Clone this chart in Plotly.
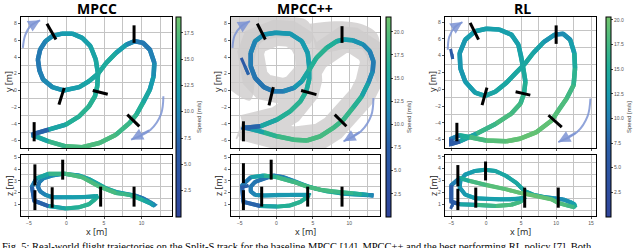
import plotly.graph_objects as go
from plotly.colors import sample_colorscale

W, H = 640, 248

# ---------------- data ----------------
methods = ["MPCC", "MPCC++", "RL"]

mpcc_x = [-4.3, -2.4, -0.1, 1.7, 3.0, 3.8, 4.1, 4.2, 3.9, 3.2, 2.1, 0.8, -0.6, -1.9, -2.8, -3.5, -3.8, -3.6, -3.1, -1.9,
          -0.4, 1.7, 3.0, 4.2, 5.3, 6.6, 8.0, 9.1, 10.2, 11.1, 11.7, 11.6, 11.1, 10.2, 9.3, 8.4, 6.6, 4.4, 2.1, -0.1,
          -2.4, -4.0, -4.6]
mpcc_y = [-5.2, -4.7, -4.1, -3.1, -1.9, -0.7, 0.5, 2.0, 3.7, 5.3, 6.3, 6.8, 6.8, 6.5, 5.9, 4.9, 3.7, 2.4, 1.3, 0.4,
          0.0, 0.4, 1.1, 2.0, 3.3, 4.5, 5.5, 5.9, 5.7, 4.9, 3.3, 1.7, 0.1, -1.5, -2.9, -3.9, -5.3, -6.3, -6.8, -6.7,
          -6.1, -5.5, -5.35]
mpcc_z = [1.3, 0.85, 0.65, 0.75, 1.0, 1.4, 1.65, 1.7, 1.7, 1.65, 1.6, 1.6, 1.6, 1.6, 1.8, 2.1, 2.5, 2.9, 3.2, 3.45,
          3.6, 3.45, 3.15, 2.75, 2.35, 2.05, 1.85, 1.75, 1.5, 1.2, 0.95, 0.9, 1.1, 1.35, 1.6, 1.8, 1.95, 2.5, 3.3, 3.6,
          3.6, 3.2, 2.5]
mpcc_v = [7, 12, 14, 15, 15, 14.5, 14, 13.5, 13, 12.5, 12, 12, 11.5, 11, 10, 9, 8.5, 9, 10, 10.5,
          11.5, 12.5, 13, 13.5, 14, 13, 11, 9, 8.5, 9, 10, 11, 12.5, 14, 15, 15.5, 16.5, 17, 17, 16.5,
          15, 11, 7]

mpp_x = [-4.5, -2.2, 0.1, 1.9, 3.3, 4.1, 4.5, 4.5, 4.3, 3.5, 1.9, -0.1, -1.7, -2.9, -3.5, -3.5, -2.9, -1.7, -0.4, 1.0,
         2.4, 3.5, 4.4, 5.5, 6.9, 8.3, 9.2, 10.5, 11.9, 12.8, 13.3, 13.2, 12.6, 11.7, 10.5, 9.2, 7.8, 6.0, 4.2, 2.4,
         0.1, -1.7, -3.5, -4.7]
mpp_y = [-4.5, -4.3, -3.5, -2.5, -1.3, -0.1, 1.3, 2.9, 4.5, 5.9, 6.8, 6.9, 6.7, 5.9, 4.5, 2.9, 1.5, 0.4, -0.1, -0.1,
         0.3, 1.1, 2.3, 3.9, 5.1, 5.9, 6.1, 6.0, 5.5, 4.7, 3.5, 2.3, 0.9, -0.7, -2.1, -3.5, -4.5, -5.5, -6.0, -5.9,
         -5.5, -5.0, -4.6, -4.4]
mpp_z = [1.2, 0.85, 0.8, 0.9, 1.2, 1.55, 1.75, 1.8, 1.8, 1.8, 1.8, 1.8, 1.75, 1.8, 2.1, 2.5, 2.9, 3.2, 3.45, 3.3,
         3.0, 2.7, 2.5, 2.3, 2.1, 2.0, 1.9, 1.85, 1.8, 1.8, 1.75, 1.75, 1.8, 1.85, 1.95, 2.0, 2.1, 2.25, 2.5, 2.9,
         3.3, 3.45, 3.3, 2.6]
mpp_v = [8, 14, 16, 17, 17, 16, 15, 14, 13.5, 13, 13, 13, 12.5, 11.5, 10.5, 10, 9.5, 9.5, 10, 10.5,
         12, 14, 16, 17, 17, 15.5, 14, 13, 12, 11, 10, 10.5, 13, 16, 17.5, 18, 18.5, 19, 19, 18.5,
         18, 16, 12, 8]

rl_x = [-5.0, -3.8, -1.4, 1.4, 3.6, 4.9, 5.4, 5.6, 5.3, 5.0, 4.6, 3.6, 1.9, 0.0, -1.6, -3.0, -3.8, -3.7, -3.0, -1.6,
        -0.2, 1.3, 2.8, 4.3, 5.5, 6.7, 8.2, 9.8, 11.0, 12.0, 12.6, 12.7, 12.5, 11.5, 10.3, 9.4, 7.2, 4.8, 2.9, 0.0,
        -2.4, -3.8, -5.0]
rl_y = [-6.5, -6.2, -5.3, -4.1, -2.9, -1.7, -0.5, 0.9, 2.5, 3.9, 5.3, 6.5, 7.1, 7.2, 6.9, 5.9, 4.3, 2.5, 0.9, -0.4,
        -0.8, -0.3, 0.7, 2.0, 3.0, 4.3, 5.6, 6.5, 6.6, 5.9, 4.3, 2.5, 0.5, -1.1, -2.5, -3.7, -5.1, -5.9, -6.2, -6.1,
        -5.7, -5.5, -5.9]
rl_z = [1.2, 1.0, 0.95, 0.85, 0.95, 1.2, 1.5, 1.6, 1.55, 1.5, 1.45, 1.4, 1.4, 1.45, 1.5, 1.8, 2.4, 3.0, 3.5, 3.8,
        3.9, 3.8, 3.4, 2.8, 2.1, 1.8, 1.6, 1.5, 1.4, 1.2, 1.0, 0.85, 0.75, 0.9, 1.1, 1.4, 1.7, 1.95, 2.25, 2.6,
        2.95, 3.2, 2.6]
rl_v = [5, 12, 16, 18, 18, 17, 16, 15, 14, 13.5, 13, 13, 13, 13, 13, 12.5, 12, 12, 12.5, 13,
        13.5, 14, 14, 14, 14.5, 14, 12.5, 11, 11, 12, 14, 15.5, 17, 18, 18.5, 19, 19.5, 19.5, 19, 18.5,
        17, 13, 7]

# start strands (take-off)
mpp_start_x = [-4.8, -4.3, -3.8]
mpp_start_y = [3.9, 2.9, 1.9]
mpp_start_z = [2.4, 2.5, 2.6]
mpp_start_v = [5, 7, 9]
rl_start_x = [-5.1, -4.9, -4.8]
rl_start_y = [4.8, 4.2, 3.6]
rl_start_z = [0.6, 0.8, 1.0]
rl_start_v = [5, 6, 8]

# grey corridor blobs of MPCC++ (top view)
blob1_x = [-6.2, -2.5, 1.0, 4.0, 5.0, 4.6, 2.5, 0.0, -2.2, -3.0, -3.0, -3.6, -6.2]
blob1_y = [8.8, 8.8, 8.8, 8.5, 7.2, 5.6, 6.2, 6.3, 5.6, 3.5, 0.5, -1.2, 0.0]
blob2_x = [4.6, 8.0, 11.5, 13.8, 14.2, 13.9, 12.4, 11.6, 10.0, 7.2, 5.4]
blob2_y = [8.0, 8.3, 8.0, 6.8, 4.5, 1.0, 4.0, 5.0, 5.1, 4.6, 4.9]

# gates: top view segments (x0, y0, x1, y1) and side view (x, z0, z1)
mpcc_gates_xy = [(-2.6, 8.0, -1.4, 6.1), (9.0, 7.8, 9.0, 5.7), (3.5, 0.0, 5.5, -0.45),
                 (-0.3, 0.3, -1.0, -1.7), (8.1, -2.9, 9.7, -4.3), (-4.3, -3.8, -4.3, -6.1)]
mpcc_gates_xz = [(-4.2, 2.6, 4.4), (-4.2, 0.5, 2.2), (-0.5, 3.1, 4.8), (-1.9, 0.7, 2.45),
                 (4.55, 0.8, 2.5), (9.0, 0.8, 2.5)]
mpp_gates_xy = [(-2.6, 8.0, -1.5, 6.1), (9.0, 7.7, 9.0, 5.7), (3.4, 0.0, 5.5, -0.5),
                (-0.4, 0.4, -1.0, -1.8), (8.0, -2.9, 9.6, -4.3), (-4.5, -3.7, -4.5, -6.1)]
mpp_gates_xz = [(-4.5, 2.8, 4.5), (-4.5, 0.5, 2.2), (-0.7, 3.1, 4.8), (-2.0, 0.8, 2.5),
                (4.3, 0.8, 2.5), (9.0, 0.8, 2.5)]
rl_gates_xy = [(-2.3, 7.9, -1.1, 5.9), (10.0, 7.6, 10.0, 5.4), (4.2, -0.3, 6.3, -0.7),
               (0.1, 0.2, -0.6, -1.9), (8.9, -3.1, 10.8, -4.5), (-4.2, -4.0, -4.2, -6.2)]
rl_gates_xz = [(-4.06, 2.5, 4.3), (-4.06, 0.5, 2.3), (-0.1, 3.0, 4.6), (-1.5, 0.7, 2.4),
               (5.5, 0.7, 2.4), (10.3, 0.7, 2.4)]

# direction arrows (top view)
mpcc_arrow1 = ([-5.8, -5.5, -4.7, -3.5], [5.1, 6.6, 7.8, 8.4])
mpcc_arrow2 = ([12.9, 12.6, 11.2, 8.6], [-0.7, -2.8, -4.7, -5.9])
mpp_arrow1 = ([-6.0, -5.7, -4.8, -3.6], [5.1, 6.6, 7.7, 8.3])
mpp_arrow2 = ([13.3, 13.0, 11.6, 9.2], [-0.9, -3.0, -4.9, -6.1])
rl_arrow1 = ([-5.5, -5.3, -4.5, -3.4], [4.7, 6.2, 7.4, 8.0])
rl_arrow2 = ([14.9, 14.5, 13.0, 10.3], [-1.1, -3.2, -5.1, -6.3])

speed_max = [19.0, 21.6, 20.3]
speed_ticks = [[2.5, 5, 7.5, 10, 12.5, 15, 17.5], [2.5, 5, 7.5, 10, 12.5, 15, 17.5, 20],
               [2.5, 5, 7.5, 10, 12.5, 15, 17.5, 20]]
x_ranges = [[-6.05, 14.05], [-6.2, 14.2], [-5.9, 15.7]]
y_ranges = [[-6.9, 8.8], [-6.9, 8.8], [-7.0, 8.6]]
z_ranges = [[0, 5.2], [0, 5.2], [0, 5.15]]
x_ticks = [[-5, 0, 5, 10], [-5, 0, 5, 10], [-5, 0, 5, 10, 15]]
y_ticks = [-6, -4, -2, 0, 2, 4, 6, 8]
z_ticks = [1, 2, 3, 4, 5]

caption = ("Fig. 5: Real-world flight trajectories on the Split-S track for the baseline MPCC [14], "
           "MPCC++ and the best performing RL policy [7]. Both")

# ---------------- styling / layout ----------------
cscale = [[0, '#30449a'], [0.35, '#2a5ea8'], [0.5, '#2281b4'], [0.62, '#179cae'],
          [0.75, '#1fae98'], [0.88, '#48ba80'], [1, '#72c46c']]

paths = [(mpcc_x, mpcc_y, mpcc_z, mpcc_v), (mpp_x, mpp_y, mpp_z, mpp_v), (rl_x, rl_y, rl_z, rl_v)]
starts = [None, (mpp_start_x, mpp_start_y, mpp_start_z, mpp_start_v),
          (rl_start_x, rl_start_y, rl_start_z, rl_start_v)]
gates_xy = [mpcc_gates_xy, mpp_gates_xy, rl_gates_xy]
gates_xz = [mpcc_gates_xz, mpp_gates_xz, rl_gates_xz]
arrows = [(mpcc_arrow1, mpcc_arrow2), (mpp_arrow1, mpp_arrow2), (rl_arrow1, rl_arrow2)]

# pixel boxes
px_left = [21, 231, 445]
px_right = [172, 380, 596]
top_box = (17, 148)
bot_box = (155, 216)
cbar_x = [176, 386, 606]
title_x = [97, 305, 522]
ylab_x = [9, 218, 433]


def fx(p):
    return p / W


def fy(p):
    return 1 - p / H


fig = go.Figure()
layout = dict(width=W, height=H, margin=dict(l=0, r=0, t=0, b=0), paper_bgcolor='white',
              plot_bgcolor='white', showlegend=False)
annotations = []
GRID = '#c4c4c4'
GREY = 'rgba(206,204,204,0.8)'
TICKFONT = dict(size=5, color='#555555', family='Liberation Sans')


def add_segments(xs, ys, vs, xa, ya, vmax, closed, width):
    n = len(xs)
    idx = list(range(n)) + ([0, 1] if closed else [])
    last = n if closed else n - 1
    for i in range(last):
        i0, i1 = idx[i], idx[i + 1]
        pts = [idx[i], idx[i + 1]]
        if i + 2 < len(idx):
            pts.append(idx[i + 2])
        v = 0.5 * (vs[i0] + vs[i1]) / vmax
        col = sample_colorscale(cscale, [min(max(v, 0), 1)])[0]
        fig.add_trace(go.Scatter(x=[xs[k] for k in pts], y=[ys[k] for k in pts], mode='lines',
                                 line=dict(color=col, width=width), xaxis=xa, yaxis=ya,
                                 hoverinfo='skip', showlegend=False))


for m in range(3):
    ax_top = 2 * m + 1
    ax_bot = 2 * m + 2
    xt, yt = ('x' if ax_top == 1 else f'x{ax_top}'), ('y' if ax_top == 1 else f'y{ax_top}')
    xb, yb = f'x{ax_bot}', f'y{ax_bot}'
    dom_x = [fx(px_left[m]), fx(px_right[m])]
    xr = x_ranges[m]
    minor_x = [v + 2.5 for v in range(-10, 20, 5)]
    common_x = dict(domain=dom_x, range=xr, showline=True, mirror=True, linecolor='black', linewidth=1.3,
                    tickvals=x_ticks[m], showgrid=True, gridcolor=GRID, gridwidth=1.3, zeroline=False,
                    ticks='outside', ticklen=2, tickcolor='#555', tickfont=TICKFONT,
                    minor=dict(tickvals=minor_x, showgrid=True, gridcolor=GRID, gridwidth=1.3, ticks=''))
    layout['xaxis' if ax_top == 1 else f'xaxis{ax_top}'] = dict(common_x, anchor=yt, showticklabels=False)
    layout[f'xaxis{ax_bot}'] = dict(common_x, anchor=yb)
    layout['yaxis' if ax_top == 1 else f'yaxis{ax_top}'] = dict(
        domain=[fy(top_box[1]), fy(top_box[0])], range=y_ranges[m], anchor=xt, showline=True, mirror=True,
        linecolor='black', linewidth=1.3, tickvals=y_ticks, showgrid=False, zeroline=False, ticks='outside',
        ticklen=2, tickcolor='#555', tickfont=TICKFONT,
        minor=dict(tickvals=[-5, -3, -1, 1, 3, 5, 7], showgrid=True, gridcolor=GRID, gridwidth=1.3, ticks=''))
    layout[f'yaxis{ax_bot}'] = dict(
        domain=[fy(bot_box[1]), fy(bot_box[0])], range=z_ranges[m], anchor=xb, showline=True, mirror=True,
        linecolor='black', linewidth=1.3, tickvals=z_ticks, showgrid=False, zeroline=False, ticks='outside',
        ticklen=2, tickcolor='#555', tickfont=TICKFONT,
        minor=dict(tickvals=[0.5, 1.5, 2.5, 3.5, 4.5], showgrid=True, gridcolor=GRID, gridwidth=1.3, ticks=''))

    px_, py_, pz_, pv_ = paths[m]
    vmax = speed_max[m]

    # safety corridor of MPCC++
    if m == 1:
        for bx, by in ((blob1_x, blob1_y), (blob2_x, blob2_y)):
            fig.add_trace(go.Scatter(x=bx, y=by, mode='lines', fill='toself', fillcolor=GREY,
                                     line=dict(color='rgba(0,0,0,0)', width=0, shape='spline'),
                                     xaxis=xt, yaxis=yt, hoverinfo='skip'))
        fig.add_trace(go.Scatter(x=px_ + [px_[0]], y=py_ + [py_[0]], mode='lines',
                                 line=dict(color=GREY, width=26),
                                 xaxis=xt, yaxis=yt, hoverinfo='skip'))

    add_segments(px_, py_, pv_, xt, yt, vmax, True, 4.5)
    add_segments(px_, pz_, pv_, xb, yb, vmax, True, 4)
    if starts[m] is not None:
        sx, sy, sz, sv = starts[m]
        add_segments(sx, sy, sv, xt, yt, vmax, False, 3)
        add_segments(sx, sz, sv, xb, yb, vmax, False, 3)

    # gates
    for (x0, y0, x1, y1) in gates_xy[m]:
        fig.add_trace(go.Scatter(x=[x0, x1], y=[y0, y1], mode='lines', line=dict(color='black', width=3),
                                 xaxis=xt, yaxis=yt, hoverinfo='skip'))
    for (gx, z0, z1) in gates_xz[m]:
        fig.add_trace(go.Scatter(x=[gx, gx], y=[z0, z1], mode='lines', line=dict(color='black', width=3),
                                 xaxis=xb, yaxis=yb, hoverinfo='skip'))

    # arrows
    acol = 'rgba(125,148,212,0.85)'
    for (axs, ays) in arrows[m]:
        fig.add_trace(go.Scatter(x=axs, y=ays, mode='lines', line=dict(color=acol, width=2, shape='spline'),
                                 xaxis=xt, yaxis=yt, hoverinfo='skip'))
        annotations.append(dict(x=axs[-1], y=ays[-1], ax=axs[-2], ay=ays[-2], xref=xt, yref=yt, axref=xt,
                                ayref=yt, showarrow=True, arrowhead=2, arrowsize=1.2, arrowwidth=2,
                                arrowcolor=acol, text=''))

    # colorbar carrier
    fig.add_trace(go.Scatter(x=[None], y=[None], mode='markers', xaxis=xt, yaxis=yt,
                             marker=dict(color=[0], cmin=0, cmax=vmax, colorscale=cscale, showscale=True,
                                         colorbar=dict(x=fx(cbar_x[m]), xanchor='left', xpad=0, ypad=0,
                                                       y=fy(117), yanchor='middle', len=200 / H,
                                                       lenmode='fraction', thickness=5, outlinewidth=1,
                                                       outlinecolor='black', tickvals=speed_ticks[m],
                                                       tickformat='.1f', ticks='outside', ticklen=2,
                                                       tickfont=dict(size=5, color='#555',
                                                                     family='Liberation Sans'),
                                                       title=dict(text='Speed [m/s]', side='right',
                                                                  font=dict(size=6, color='#444',
                                                                            family='Liberation Sans'))))))

    # titles and axis labels
    annotations.append(dict(x=fx(title_x[m]), y=fy(9), xref='paper', yref='paper', text=f'<b>{methods[m]}</b>',
                            showarrow=False, font=dict(size=14, family='Open Sans', color='black'),
                            xanchor='center', yanchor='middle'))
    annotations.append(dict(x=fx(ylab_x[m]), y=fy(82), xref='paper', yref='paper', text='y [m]', textangle=-90,
                            showarrow=False, font=dict(size=9, family='Open Sans', color='#222'),
                            xanchor='center', yanchor='middle'))
    annotations.append(dict(x=fx(ylab_x[m]), y=fy(186), xref='paper', yref='paper', text='z [m]', textangle=-90,
                            showarrow=False, font=dict(size=9, family='Open Sans', color='#222'),
                            xanchor='center', yanchor='middle'))
    annotations.append(dict(x=fx((px_left[m] + px_right[m]) / 2), y=fy(231), xref='paper', yref='paper',
                            text='x [m]', showarrow=False, font=dict(size=9, family='Open Sans', color='#222'),
                            xanchor='center', yanchor='middle'))

annotations.append(dict(x=0, y=fy(238.5), xref='paper', yref='paper', text=caption, showarrow=False,
                        font=dict(size=10.5, family='Liberation Serif', color='black'),
                        xanchor='left', yanchor='top'))
layout['annotations'] = annotations
fig.update_layout(**layout)
fig.write_html("out.html", config={'displayModeBar': False},
               post_script="document.body.style.margin='0px';document.body.style.padding='0px';")
